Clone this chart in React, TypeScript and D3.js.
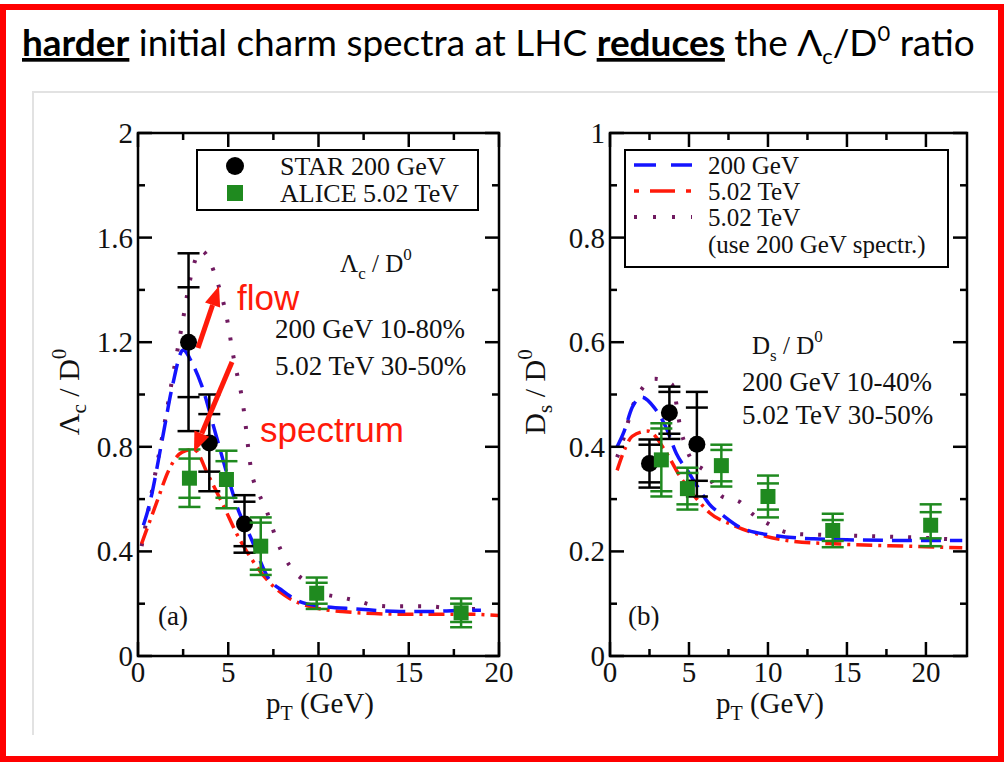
import React, { useLayoutEffect, useRef, useState } from 'react';
import * as d3 from 'd3';

// ---------- Panel (a): Lambda_c / D0 ----------
const starA_pt = [2.8, 3.95, 5.9];
const starA_val = [1.2, 0.815, 0.505];
const starA_stat = [0.21, 0.11, 0.085];
const starA_tot = [0.34, 0.185, 0.11];

const aliceA_pt = [2.85, 4.9, 6.8, 9.9, 17.9];
const aliceA_val = [0.68, 0.675, 0.42, 0.24, 0.165];
const aliceA_stat = [0.075, 0.07, 0.09, 0.04, 0.035];
const aliceA_tot = [0.11, 0.11, 0.11, 0.06, 0.055];

const blueA_pt = [0.3, 0.6, 1.35, 1.9, 2.5, 3.0, 3.5, 4.3, 5.0, 5.6, 6.2, 7.3, 8.0, 8.9, 10.2, 12.1, 14.5, 16.0, 18.2, 19.0];
const blueA_val = [0.5, 0.57, 0.83, 1.03, 1.17, 1.12, 1.04, 0.85, 0.68, 0.55, 0.46, 0.29, 0.25, 0.21, 0.19, 0.18, 0.17, 0.17, 0.175, 0.175];

const redA_pt = [0.2, 1.05, 1.7, 2.45, 3.1, 3.9, 4.7, 5.6, 6.3, 7.3, 8.4, 9.5, 11.3, 14.5, 18.2, 20.0];
const redA_val = [0.43, 0.59, 0.71, 0.78, 0.79, 0.69, 0.58, 0.45, 0.37, 0.28, 0.22, 0.19, 0.17, 0.16, 0.16, 0.155];

const purpleA_pt = [0.2, 0.8, 1.5, 1.9, 2.5, 2.8, 3.5, 4.4, 4.9, 5.3, 5.8, 6.3, 6.7, 7.1, 7.4, 7.7, 8.1, 8.7, 9.4, 10.2, 11.2, 12.2, 13.0, 14.1, 16.0, 17.8, 18.8];
const purpleA_val = [0.42, 0.64, 0.9, 1.06, 1.29, 1.41, 1.55, 1.43, 1.3, 1.14, 0.97, 0.7, 0.62, 0.56, 0.5, 0.44, 0.38, 0.32, 0.28, 0.24, 0.225, 0.21, 0.195, 0.19, 0.19, 0.18, 0.18];

// ---------- Panel (b): Ds / D0 ----------
const starB_pt = [2.5, 3.76, 5.5];
const starB_val = [0.368, 0.465, 0.405];
const starB_stat = [0.036, 0.04, 0.07];
const starB_tot = [0.046, 0.05, 0.1];

const aliceB_pt = [3.25, 4.9, 7.05, 10.0, 14.1, 20.3];
const aliceB_val = [0.375, 0.32, 0.364, 0.305, 0.24, 0.25];
const aliceB_stat = [0.06, 0.03, 0.03, 0.025, 0.02, 0.025];
const aliceB_tot = [0.07, 0.04, 0.04, 0.04, 0.032, 0.04];

const blueB_pt = [0.45, 0.9, 1.4, 2.0, 2.8, 3.55, 4.2, 5.0, 5.7, 6.3, 7.1, 8.3, 10.5, 12.9, 15.5, 17.9, 20.1, 22.3];
const blueB_val = [0.4, 0.43, 0.475, 0.495, 0.475, 0.437, 0.387, 0.35, 0.316, 0.29, 0.27, 0.245, 0.23, 0.224, 0.222, 0.221, 0.221, 0.221];

const redB_pt = [0.45, 1.0, 1.4, 2.4, 3.6, 4.4, 5.5, 6.3, 7.8, 9.7, 11.4, 14.6, 18.8, 22.3];
const redB_val = [0.355, 0.4, 0.42, 0.43, 0.387, 0.345, 0.3, 0.274, 0.25, 0.23, 0.22, 0.214, 0.21, 0.207];

const purpleB_pt = [0.45, 0.9, 1.4, 2.0, 2.8, 3.9, 4.5, 5.2, 6.0, 7.1, 8.2, 9.0, 9.9, 10.8, 12.0, 13.1, 15.3, 17.7, 19.9, 22.1];
const purpleB_val = [0.38, 0.42, 0.475, 0.51, 0.53, 0.52, 0.43, 0.373, 0.354, 0.305, 0.295, 0.272, 0.255, 0.24, 0.233, 0.232, 0.23, 0.228, 0.226, 0.222];

// ---------- Axis ticks ----------
const xMajorTicks = [0, 5, 10, 15, 20];
const xMinorTicks = [2.5, 7.5, 12.5, 17.5];
const yMajorA = [0, 0.4, 0.8, 1.2, 1.6, 2];
const yMinorA = [0.2, 0.6, 1.0, 1.4, 1.8];
const yLabelsA = ['0', '0.4', '0.8', '1.2', '1.6', '2'];
const yMajorB = [0, 0.2, 0.4, 0.6, 0.8, 1];
const yMinorB = [0.1, 0.3, 0.5, 0.7, 0.9];
const yLabelsB = ['0', '0.2', '0.4', '0.6', '0.8', '1'];

const BLUE = '#1414ff';
const RED = '#ff1a0a';
const PURPLE = '#701a60';
const GREEN = '#1f8a1f';
const SERIF = '"Liberation Serif", "DejaVu Serif", serif';
const SANS = '"Liberation Sans", Arial, sans-serif';

const DASH_BLUE = '20,9';
const DASH_RED = '16,6,3,6';
const DASH_PURPLE = '3,15';

type Scale = d3.ScaleLinear<number, number>;

function Frame({ x, y, xMinor, yMajor, yMinor }: { x: Scale; y: Scale; xMinor: number[]; yMajor: number[]; yMinor: number[] }) {
  const [x0, x1] = x.range();
  const [y0, y1] = y.range();
  const maj = 14, min = 7;
  const lines: JSX.Element[] = [];
  xMajorTicks.forEach((v, i) => {
    const px = x(v);
    lines.push(<line key={'xb' + i} x1={px} x2={px} y1={y0} y2={y0 - maj} />);
    lines.push(<line key={'xt' + i} x1={px} x2={px} y1={y1} y2={y1 + maj} />);
  });
  xMinor.forEach((v, i) => {
    const px = x(v);
    lines.push(<line key={'xbm' + i} x1={px} x2={px} y1={y0} y2={y0 - min} />);
    lines.push(<line key={'xtm' + i} x1={px} x2={px} y1={y1} y2={y1 + min} />);
  });
  yMajor.forEach((v, i) => {
    const py = y(v);
    lines.push(<line key={'yl' + i} x1={x0} x2={x0 + maj} y1={py} y2={py} />);
    lines.push(<line key={'yr' + i} x1={x1} x2={x1 - maj} y1={py} y2={py} />);
  });
  yMinor.forEach((v, i) => {
    const py = y(v);
    lines.push(<line key={'ylm' + i} x1={x0} x2={x0 + min} y1={py} y2={py} />);
    lines.push(<line key={'yrm' + i} x1={x1} x2={x1 - min} y1={py} y2={py} />);
  });
  return (
    <g stroke="#000" strokeWidth={2.5} fill="none">
      <rect x={x0} y={y1} width={x1 - x0} height={y0 - y1} />
      {lines}
    </g>
  );
}

function TickLabels({ x, y, yMajor, yLabels }: { x: Scale; y: Scale; yMajor: number[]; yLabels: string[] }) {
  const [x0] = x.range();
  const [y0] = y.range();
  return (
    <g fontFamily={SERIF} fontSize={29} fill="#111">
      {xMajorTicks.map((v, i) => (
        <text key={'xl' + i} x={x(v)} y={y0 + 26} textAnchor="middle">{String(v)}</text>
      ))}
      {yMajor.map((v, i) => (
        <text key={'yl' + i} x={x0 - 5} y={y(v) + 10} textAnchor="end">{yLabels[i]}</text>
      ))}
    </g>
  );
}

function Curve({ pts, vals, x, y, color, dash, width = 3.5 }: { pts: number[]; vals: number[]; x: Scale; y: Scale; color: string; dash: string; width?: number }) {
  const data = pts.map((p, i) => [p, vals[i]] as [number, number]);
  const gen = d3.line<[number, number]>().x(d => x(d[0])).y(d => y(d[1])).curve(d3.curveMonotoneX);
  return <path d={gen(data) || ''} fill="none" stroke={color} strokeWidth={width} strokeDasharray={dash} />;
}

function ErrorPoints({ pts, vals, stat, tot, x, y, color, marker }: { pts: number[]; vals: number[]; stat: number[]; tot: number[]; x: Scale; y: Scale; color: string; marker: 'circle' | 'square' }) {
  const cw = 11;
  return (
    <g>
      {pts.map((p, i) => {
        const px = x(p);
        const v = vals[i];
        const caps = [v + tot[i], v + stat[i], v - stat[i], v - tot[i]];
        return (
          <g key={i}>
            <g stroke={color} strokeWidth={2.5}>
              <line x1={px} x2={px} y1={y(v + tot[i])} y2={y(v - tot[i])} />
              {caps.map((c, j) => (
                <line key={j} x1={px - cw} x2={px + cw} y1={y(c)} y2={y(c)} />
              ))}
            </g>
            {marker === 'circle' ? (
              <circle cx={px} cy={y(v)} r={8.5} fill={color} />
            ) : (
              <rect x={px - 7.5} y={y(v) - 7.5} width={15} height={15} fill={color} />
            )}
          </g>
        );
      })}
    </g>
  );
}

function Arrow({ x1, y1, x2, y2 }: { x1: number; y1: number; x2: number; y2: number }) {
  const ang = Math.atan2(y2 - y1, x2 - x1);
  const len = 20, half = 8;
  const bx = x2 - len * Math.cos(ang), by = y2 - len * Math.sin(ang);
  const nx = -Math.sin(ang), ny = Math.cos(ang);
  return (
    <g fill={RED} stroke={RED}>
      <line x1={x1} y1={y1} x2={bx} y2={by} strokeWidth={5} />
      <polygon points={`${x2},${y2} ${bx + nx * half},${by + ny * half} ${bx - nx * half},${by - ny * half}`} stroke="none" />
    </g>
  );
}

function Title() {
  const ref = useRef<SVGTextElement>(null);
  const [sx, setSx] = useState(1);
  useLayoutEffect(() => {
    if (ref.current) {
      const w = ref.current.getBBox().width;
      if (w > 0) setSx(953 / w);
    }
  }, []);
  const fs = 37;
  return (
    <text ref={ref} transform={`translate(22,56) scale(${sx},1)`} fontFamily='Lato, "Open Sans", sans-serif' fontSize={fs} fill="#000">
      <tspan fontWeight="bold" textDecoration="underline">harder</tspan>
      <tspan>{' initial charm spectra at LHC '}</tspan>
      <tspan fontWeight="bold" textDecoration="underline">reduces</tspan>
      <tspan>{' the Λ'}</tspan>
      <tspan fontSize={22} dy={8}>c</tspan>
      <tspan fontSize={fs} dy={-8}>/D</tspan>
      <tspan fontSize={22} dy={-15}>0</tspan>
      <tspan fontSize={fs} dy={15}>{' ratio'}</tspan>
    </text>
  );
}

export default function App() {
  const xA = d3.scaleLinear().domain([0, 20]).range([138, 499]);
  const yA = d3.scaleLinear().domain([0, 2]).range([656, 133]);
  const xB = d3.scaleLinear().domain([0, 22.6]).range([610, 967]);
  const yB = d3.scaleLinear().domain([0, 1]).range([656, 133]);

  return (
    <svg width={1005} height={763} style={{ position: 'absolute', left: 0, top: 0, background: '#fff' }}>
      <defs>
        <clipPath id="clipA"><rect x={138} y={133} width={361} height={523} /></clipPath>
        <clipPath id="clipB"><rect x={610} y={133} width={357} height={523} /></clipPath>
      </defs>
      <rect x={0} y={0} width={1005} height={763} fill="#fff" />
      {/* light border of the embedded figure */}
      <path d="M33,735 L33,92 L1000,92" fill="none" stroke="#e2e2e2" strokeWidth={2} />

      <Title />

      {/* ===== Panel (a) ===== */}
      <g clipPath="url(#clipA)">
        <Curve pts={purpleA_pt} vals={purpleA_val} x={xA} y={yA} color={PURPLE} dash={DASH_PURPLE} width={4} />
        <Curve pts={redA_pt} vals={redA_val} x={xA} y={yA} color={RED} dash={DASH_RED} />
        <Curve pts={blueA_pt} vals={blueA_val} x={xA} y={yA} color={BLUE} dash={DASH_BLUE} />
      </g>
      <ErrorPoints pts={starA_pt} vals={starA_val} stat={starA_stat} tot={starA_tot} x={xA} y={yA} color="#000" marker="circle" />
      <ErrorPoints pts={aliceA_pt} vals={aliceA_val} stat={aliceA_stat} tot={aliceA_tot} x={xA} y={yA} color={GREEN} marker="square" />
      <Frame x={xA} y={yA} xMinor={xMinorTicks} yMajor={yMajorA} yMinor={yMinorA} />
      <TickLabels x={xA} y={yA} yMajor={yMajorA} yLabels={yLabelsA} />

      {/* legend (a) */}
      <rect x={197} y={150} width={281} height={60} fill="#fff" stroke="#000" strokeWidth={2} />
      <circle cx={235} cy={166} r={9} fill="#000" />
      <rect x={227} y={185} width={16} height={16} fill={GREEN} />
      <g fontFamily={SERIF} fontSize={26} fill="#111">
        <text x={280} y={175}>STAR 200 GeV</text>
        <text x={280} y={202}>ALICE 5.02 TeV</text>
      </g>

      <g fontFamily={SERIF} fill="#111">
        <text x={340} y={272} fontSize={25}>Λ<tspan fontSize={17} dy={7}>c</tspan><tspan fontSize={25} dy={-7}>{' / D'}</tspan><tspan fontSize={17} dy={-12}>0</tspan></text>
        <text x={275} y={338} fontSize={27}>200 GeV 10-80%</text>
        <text x={275} y={375} fontSize={27}>5.02 TeV 30-50%</text>
        <text x={158} y={625} fontSize={27}>(a)</text>
        <text x={320} y={713} fontSize={29} textAnchor="middle">p<tspan fontSize={20} dy={7}>T</tspan><tspan fontSize={29} dy={-7}>{' (GeV)'}</tspan></text>
        <text transform="translate(79,392) rotate(-90)" fontSize={30} textAnchor="middle">Λ<tspan fontSize={21} dy={7}>c</tspan><tspan fontSize={30} dy={-7}>{' / D'}</tspan><tspan fontSize={21} dy={-13}>0</tspan></text>
      </g>

      <Arrow x1={198} y1={348} x2={219} y2={286} />
      <Arrow x1={232} y1={362} x2={194} y2={452} />
      <g fontFamily={SANS} fill={RED} fontSize={35}>
        <text x={237} y={310}>flow</text>
        <text x={260} y={442}>spectrum</text>
      </g>

      {/* ===== Panel (b) ===== */}
      <g clipPath="url(#clipB)">
        <Curve pts={purpleB_pt} vals={purpleB_val} x={xB} y={yB} color={PURPLE} dash={DASH_PURPLE} width={4} />
        <Curve pts={redB_pt} vals={redB_val} x={xB} y={yB} color={RED} dash={DASH_RED} />
        <Curve pts={blueB_pt} vals={blueB_val} x={xB} y={yB} color={BLUE} dash={DASH_BLUE} />
      </g>
      <ErrorPoints pts={starB_pt} vals={starB_val} stat={starB_stat} tot={starB_tot} x={xB} y={yB} color="#000" marker="circle" />
      <ErrorPoints pts={aliceB_pt} vals={aliceB_val} stat={aliceB_stat} tot={aliceB_tot} x={xB} y={yB} color={GREEN} marker="square" />
      <Frame x={xB} y={yB} xMinor={[...xMinorTicks]} yMajor={yMajorB} yMinor={yMinorB} />
      <TickLabels x={xB} y={yB} yMajor={yMajorB} yLabels={yLabelsB} />

      {/* legend (b) */}
      <rect x={625} y={150} width={323} height={117} fill="#fff" stroke="#000" strokeWidth={2} />
      <line x1={634} x2={692} y1={165} y2={165} stroke={BLUE} strokeWidth={3.5} strokeDasharray="22,15" />
      <line x1={634} x2={692} y1={191} y2={191} stroke={RED} strokeWidth={3.5} strokeDasharray="5,11,25,11,5" />
      <line x1={634} x2={692} y1={217} y2={217} stroke={PURPLE} strokeWidth={4} strokeDasharray="3,16" />
      <g fontFamily={SERIF} fontSize={25} fill="#111">
        <text x={708} y={174}>200 GeV</text>
        <text x={708} y={200}>5.02 TeV</text>
        <text x={708} y={226}>5.02 TeV</text>
        <text x={708} y={253}>(use 200 GeV spectr.)</text>
      </g>

      <g fontFamily={SERIF} fill="#111">
        <text x={752} y={354} fontSize={25}>D<tspan fontSize={17} dy={7}>s</tspan><tspan fontSize={25} dy={-7}>{' / D'}</tspan><tspan fontSize={17} dy={-12}>0</tspan></text>
        <text x={742} y={391} fontSize={27}>200 GeV 10-40%</text>
        <text x={742} y={424} fontSize={27}>5.02 TeV 30-50%</text>
        <text x={628} y={625} fontSize={27}>(b)</text>
        <text x={770} y={713} fontSize={29} textAnchor="middle">p<tspan fontSize={20} dy={7}>T</tspan><tspan fontSize={29} dy={-7}>{' (GeV)'}</tspan></text>
        <text transform="translate(545,392) rotate(-90)" fontSize={30} textAnchor="middle">D<tspan fontSize={21} dy={7}>s</tspan><tspan fontSize={30} dy={-7}>{' / D'}</tspan><tspan fontSize={21} dy={-13}>0</tspan></text>
      </g>

      {/* red outer border */}
      <rect x={3} y={7} width={998} height={752} fill="none" stroke="#ff0000" strokeWidth={6} />
    </svg>
  );
}
